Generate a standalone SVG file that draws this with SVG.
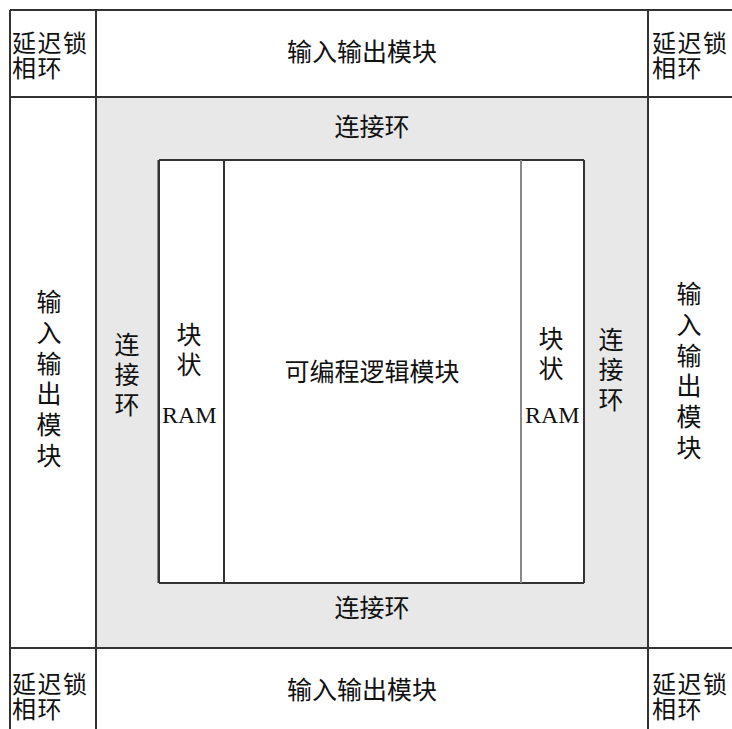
<svg xmlns="http://www.w3.org/2000/svg" width="732" height="729" viewBox="0 0 732 729">
<style>
.cjk{font-family:"Noto Sans CJK SC","Noto Sans",sans-serif;font-size:25px;fill:#111}
.cn{font-family:"Noto Sans CJK SC","Noto Sans",sans-serif;font-size:24px;letter-spacing:1.5px;fill:#111}
.mid{text-anchor:middle}
.vt{writing-mode:vertical-rl;text-anchor:start;letter-spacing:5px}
.ram{font-family:"Liberation Serif",serif;font-size:24px;fill:#111}
.ln{stroke:#333;stroke-width:2;fill:none}
.lg{stroke:#888;stroke-width:2;fill:none}
</style>
<rect width="732" height="729" fill="#fff"/>
<g id="ring">
<rect x="96" y="97" width="552" height="551" fill="#e8e8e8"/>
<text class="cjk mid" x="372" y="136">连接环</text>
<text class="cjk mid" x="372" y="617">连接环</text>
<text class="cjk vt" x="127" y="332">连接环</text>
<text class="cjk vt" x="611" y="327">连接环</text>
</g>
<g id="core">
<rect x="159" y="160" width="425" height="423" fill="#fff"/>
</g>
<g id="connectors">
<line class="ln" x1="10" y1="10" x2="732" y2="10"/>
<line class="ln" x1="10" y1="10" x2="10" y2="729"/>
<line class="ln" x1="10" y1="97" x2="732" y2="97"/>
<line class="ln" x1="10" y1="648" x2="732" y2="648"/>
<line class="ln" x1="96" y1="10" x2="96" y2="729"/>
<line class="ln" x1="648" y1="10" x2="648" y2="729"/>
<line class="lg" x1="158" y1="160" x2="158" y2="583"/>
<line class="ln" x1="159" y1="160" x2="584" y2="160"/>
<line class="ln" x1="159" y1="583" x2="584" y2="583"/>
<line class="ln" x1="159" y1="160" x2="159" y2="583"/>
<line class="ln" x1="224" y1="160" x2="224" y2="583"/>
<line class="lg" x1="521" y1="160" x2="521" y2="583"/>
<line class="ln" x1="584" y1="160" x2="584" y2="583"/>
</g>
<g id="dll-tl"><text class="cn"><tspan x="12" y="52">延迟锁</tspan><tspan x="12" y="77">相环</tspan></text></g>
<g id="dll-tr"><text class="cn"><tspan x="652" y="52">延迟锁</tspan><tspan x="652" y="77">相环</tspan></text></g>
<g id="dll-bl"><text class="cn"><tspan x="12" y="693">延迟锁</tspan><tspan x="12" y="718">相环</tspan></text></g>
<g id="dll-br"><text class="cn"><tspan x="652" y="693">延迟锁</tspan><tspan x="652" y="718">相环</tspan></text></g>
<g id="io-top"><text class="cjk mid" x="362" y="61">输入输出模块</text></g>
<g id="io-bottom"><text class="cjk mid" x="362" y="699">输入输出模块</text></g>
<g id="io-left"><text class="cjk vt" x="49" y="289" style="letter-spacing:5.8px">输入输出模块</text></g>
<g id="io-right"><text class="cjk vt" x="689" y="281" style="letter-spacing:5.8px">输入输出模块</text></g>
<g id="bram-left"><text class="cjk vt" x="189" y="322">块状</text><text class="ram" x="162" y="423">RAM</text></g>
<g id="bram-right"><text class="cjk vt" x="551" y="326">块状</text><text class="ram" x="525" y="423">RAM</text></g>
<g id="logic"><text class="cjk mid" x="372" y="381">可编程逻辑模块</text></g>
</svg>
